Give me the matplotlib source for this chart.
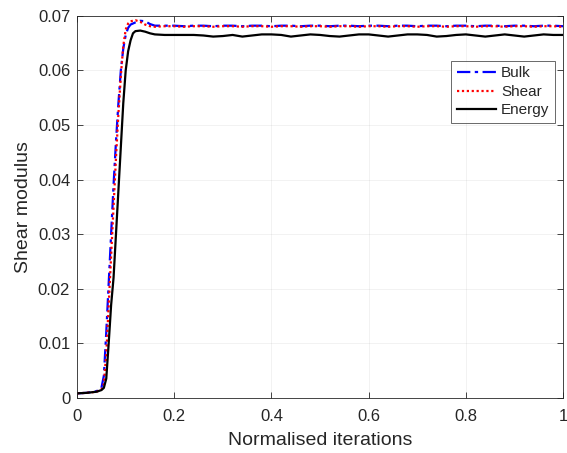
import matplotlib
matplotlib.use("Agg")
import matplotlib.pyplot as plt

plt.rcParams['font.family'] = ['Liberation Sans', 'DejaVu Sans']

# Start-up and rise (normalised iteration, modulus)
rise_x_bulk = [0.0, 0.02, 0.04, 0.05, 0.055, 0.06, 0.065, 0.07, 0.075, 0.08, 0.085,
               0.09, 0.095, 0.10, 0.105, 0.11, 0.12, 0.13, 0.14, 0.15, 0.16]
rise_y_bulk = [0.0008, 0.0009, 0.0012, 0.0018, 0.0040, 0.0120, 0.0210, 0.0300, 0.0390,
               0.0470, 0.0540, 0.0600, 0.0640, 0.0665, 0.0678, 0.0684, 0.0688, 0.0691,
               0.0690, 0.0685, 0.0682]

rise_x_shear = [0.0, 0.02, 0.04, 0.05, 0.055, 0.06, 0.065, 0.07, 0.075, 0.08, 0.085,
                0.09, 0.095, 0.10, 0.105, 0.11, 0.12, 0.13, 0.14, 0.15, 0.16]
rise_y_shear = [0.0008, 0.0009, 0.0011, 0.0015, 0.0025, 0.0080, 0.0170, 0.0260, 0.0350,
                0.0440, 0.0520, 0.0590, 0.0645, 0.0675, 0.0686, 0.0690, 0.0692, 0.0689,
                0.0684, 0.0681, 0.0680]

rise_x_energy = [0.0, 0.02, 0.04, 0.05, 0.055, 0.06, 0.065, 0.07, 0.075, 0.08, 0.085,
                 0.09, 0.095, 0.10, 0.105, 0.11, 0.115, 0.12, 0.13, 0.14, 0.15, 0.16]
rise_y_energy = [0.0008, 0.0009, 0.0011, 0.0014, 0.0018, 0.0035, 0.0100, 0.0170, 0.0220,
                 0.0300, 0.0380, 0.0460, 0.0540, 0.0600, 0.0635, 0.0655, 0.0668, 0.0672,
                 0.0673, 0.0671, 0.0668, 0.0666]

# Steady-state part
plateau_x = [0.18, 0.20, 0.22, 0.24, 0.26, 0.28, 0.30, 0.32, 0.34, 0.36, 0.38, 0.40,
             0.42, 0.44, 0.46, 0.48, 0.50, 0.52, 0.54, 0.56, 0.58, 0.60, 0.62, 0.64,
             0.66, 0.68, 0.70, 0.72, 0.74, 0.76, 0.78, 0.80, 0.82, 0.84, 0.86, 0.88,
             0.90, 0.92, 0.94, 0.96, 0.98, 1.00]
plateau_bulk = [0.0682, 0.0682, 0.0681, 0.0682, 0.0682, 0.0681, 0.0682, 0.0682, 0.0681,
                0.0682, 0.0682, 0.0681, 0.0682, 0.0682, 0.0681, 0.0682, 0.0682, 0.0681,
                0.0682, 0.0682, 0.0681, 0.0682, 0.0682, 0.0681, 0.0682, 0.0682, 0.0681,
                0.0682, 0.0682, 0.0681, 0.0682, 0.0682, 0.0681, 0.0682, 0.0682, 0.0681,
                0.0682, 0.0682, 0.0681, 0.0682, 0.0682, 0.0681]
plateau_shear = [0.0681, 0.0681, 0.0680, 0.0681, 0.0681, 0.0680, 0.0681, 0.0681, 0.0680,
                 0.0681, 0.0681, 0.0680, 0.0681, 0.0681, 0.0680, 0.0681, 0.0681, 0.0680,
                 0.0681, 0.0681, 0.0680, 0.0681, 0.0681, 0.0680, 0.0681, 0.0681, 0.0680,
                 0.0681, 0.0681, 0.0680, 0.0681, 0.0681, 0.0680, 0.0681, 0.0681, 0.0680,
                 0.0681, 0.0681, 0.0680, 0.0681, 0.0681, 0.0680]
plateau_energy = [0.0665, 0.0665, 0.0665, 0.0665, 0.0664, 0.0662, 0.0663, 0.0665, 0.0662,
                  0.0664, 0.0666, 0.0666, 0.0665, 0.0662, 0.0664, 0.0666, 0.0665, 0.0663,
                  0.0662, 0.0664, 0.0666, 0.0666, 0.0664, 0.0662, 0.0664, 0.0666, 0.0666,
                  0.0665, 0.0662, 0.0663, 0.0665, 0.0666, 0.0664, 0.0662, 0.0664, 0.0666,
                  0.0664, 0.0662, 0.0664, 0.0666, 0.0665, 0.0665]

series_names = ["Bulk", "Shear", "Energy"]
x_ticks = [0, 0.2, 0.4, 0.6, 0.8, 1]
x_tick_labels = ["0", "0.2", "0.4", "0.6", "0.8", "1"]
y_ticks = [0, 0.01, 0.02, 0.03, 0.04, 0.05, 0.06, 0.07]
y_tick_labels = ["0", "0.01", "0.02", "0.03", "0.04", "0.05", "0.06", "0.07"]

fig = plt.figure(figsize=(5.67, 4.53), dpi=100)
ax = fig.add_axes([0.136, 0.122, 0.857, 0.843])

ax.plot(rise_x_bulk + plateau_x, rise_y_bulk + plateau_bulk, color=(0, 0, 1),
        linestyle=(0, (6, 2, 1.5, 2)), linewidth=1.6, label=series_names[0])
ax.plot(rise_x_shear + plateau_x, rise_y_shear + plateau_shear, color=(1, 0, 0),
        linestyle=(0, (1, 1.2)), linewidth=1.6, label=series_names[1])
ax.plot(rise_x_energy + plateau_x, rise_y_energy + plateau_energy, color="black",
        linestyle="-", linewidth=1.6, label=series_names[2])

ax.set_xlim(0, 1)
ax.set_ylim(0, 0.07)
ax.set_xticks(x_ticks)
ax.set_xticklabels(x_tick_labels)
ax.set_yticks(y_ticks)
ax.set_yticklabels(y_tick_labels)

axis_grey = (0.15, 0.15, 0.15)
ax.grid(True, color=(0.15, 0.15, 0.15), alpha=0.07, linewidth=0.6)
ax.tick_params(direction="in", length=4, width=0.6, colors=axis_grey,
               labelsize=12, top=True, right=True)
ax.tick_params(axis="x", pad=8)
ax.tick_params(axis="y", pad=5)
for sp in ax.spines.values():
    sp.set_color(axis_grey)
    sp.set_linewidth(0.6)

ax.set_xlabel("Normalised iterations", fontsize=14, color=axis_grey, labelpad=6)
ax.set_ylabel("Shear modulus", fontsize=14, color=axis_grey, labelpad=4)

leg = ax.legend(loc="upper right", bbox_to_anchor=(0.983, 0.882), fontsize=11,
                frameon=True, fancybox=False, handlelength=2.6, handletextpad=0.3,
                borderpad=0.35, labelspacing=0.3, borderaxespad=0)
leg.get_frame().set_edgecolor((0.15, 0.15, 0.15))
leg.get_frame().set_linewidth(0.6)
for t in leg.get_texts():
    t.set_color(axis_grey)

fig.savefig("out.png", dpi=100)
